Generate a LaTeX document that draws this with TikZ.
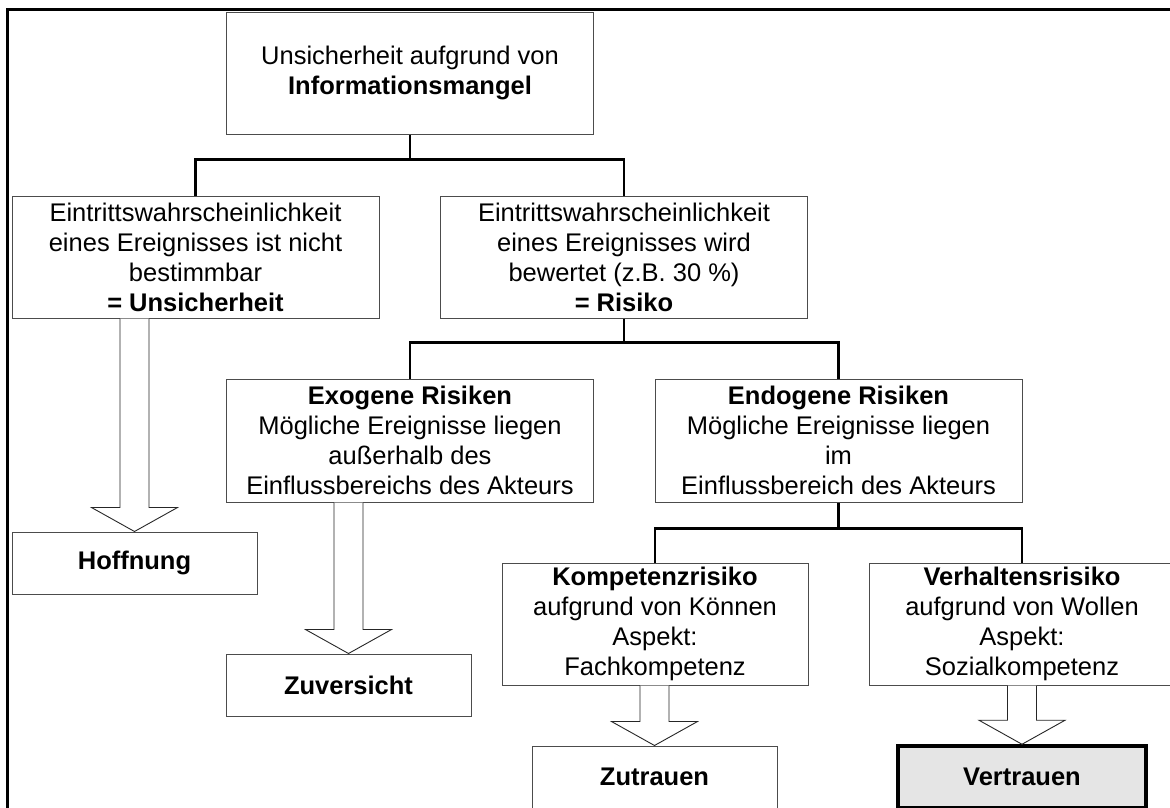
\documentclass[tikz,border=0pt]{standalone}
\usepackage{fontspec}
\setmainfont{Liberation Sans}
\usepackage{tikz}
\usepackage{xcolor}
\usetikzlibrary{calc}
\definecolor{boxline}{gray}{0.3}
\definecolor{trustfill}{gray}{0.9}
\tikzstyle{wide} = [rectangle, draw=boxline, line width=1pt, fill=white, align=center, inner sep=0pt, minimum width=367pt, minimum height=122pt]
\tikzstyle{narrow} = [wide, minimum width=306pt]
\tikzstyle{leaf} = [wide, minimum width=245pt, minimum height=62pt, font=\fontsize{25.5}{30}\selectfont\bfseries]
\tikzstyle{goal} = [leaf, draw=black, line width=3.5pt, fill=trustfill, minimum width=248pt]
\tikzstyle{conn} = [draw, line width=2.5pt]
\tikzstyle{hollow} = [draw=black!85, line width=0.9pt, fill=white]
\newcommand{\hollowarrow}[2]{%
  \draw[hollow] let \p1=(#2.north), \p2=(#1.south) in
    (\x1-14.5pt,\y2) -- (\x1-14.5pt,\y1+24pt) -- (\x1-43pt,\y1+24pt) -- (\x1,\y1)
    -- (\x1+43pt,\y1+24pt) -- (\x1+14.5pt,\y1+24pt) -- (\x1+14.5pt,\y2);}

\begin{document}
\begin{tikzpicture}[x=1pt,y=-1pt,font=\fontsize{25.5}{30}\selectfont]
  \clip (0,0) rectangle (1170,807);
  \draw[line width=3pt] (7,830) -- (7,9) -- (1190,9);

  \node[wide] (info) at (410,73) {Unsicherheit aufgrund von\\\textbf{Informationsmangel}};
  \node[wide] (unsicher) at (195.5,257) {Eintrittswahrscheinlichkeit\\eines Ereignisses ist nicht\\bestimmbar\\\textbf{= Unsicherheit}};
  \node[wide] (risiko) at (624,257) {Eintrittswahrscheinlichkeit\\eines Ereignisses wird\\bewertet (z.B. 30 \%)\\\textbf{= Risiko}};
  \node[wide, minimum height=123pt] (exo) at (410,440.5) {\textbf{Exogene Risiken}\\Mögliche Ereignisse liegen\\außerhalb des\\Einflussbereichs des Akteurs};
  \node[wide, minimum height=123pt] (endo) at (838.5,440.5) {\textbf{Endogene Risiken}\\Mögliche Ereignisse liegen\\im\\Einflussbereich des Akteurs};
  \node[narrow] (kompetenz) at (655,624) {\textbf{Kompetenzrisiko}\\aufgrund von Können\\Aspekt:\\Fachkompetenz};
  \node[narrow] (verhalten) at (1022,624) {\textbf{Verhaltensrisiko}\\aufgrund von Wollen\\Aspekt:\\Sozialkompetenz};

  \node[leaf] (hoffnung) at (134.5,563) {Hoffnung};
  \node[leaf] (zuversicht) at (348.5,685) {Zuversicht};
  \node[leaf] (zutrauen) at (654.5,777) {Zutrauen};
  \node[goal] (vertrauen) at (1022,777) {Vertrauen};

  \path[conn] (info.south) -- ++(0,25) -| (unsicher.north);
  \path[conn] (info.south) ++(0,25) -| (risiko.north);
  \path[conn] (risiko.south) -- ++(0,24) -| (exo.north);
  \path[conn] (risiko.south) ++(0,24) -| (endo.north);
  \path[conn] (endo.south) -- ++(0,26) -| (kompetenz.north);
  \path[conn] (endo.south) ++(0,26) -| (verhalten.north);

  \hollowarrow{unsicher}{hoffnung}
  \hollowarrow{exo}{zuversicht}
  \hollowarrow{kompetenz}{zutrauen}
  \hollowarrow{verhalten}{vertrauen}
\end{tikzpicture}
\end{document}
